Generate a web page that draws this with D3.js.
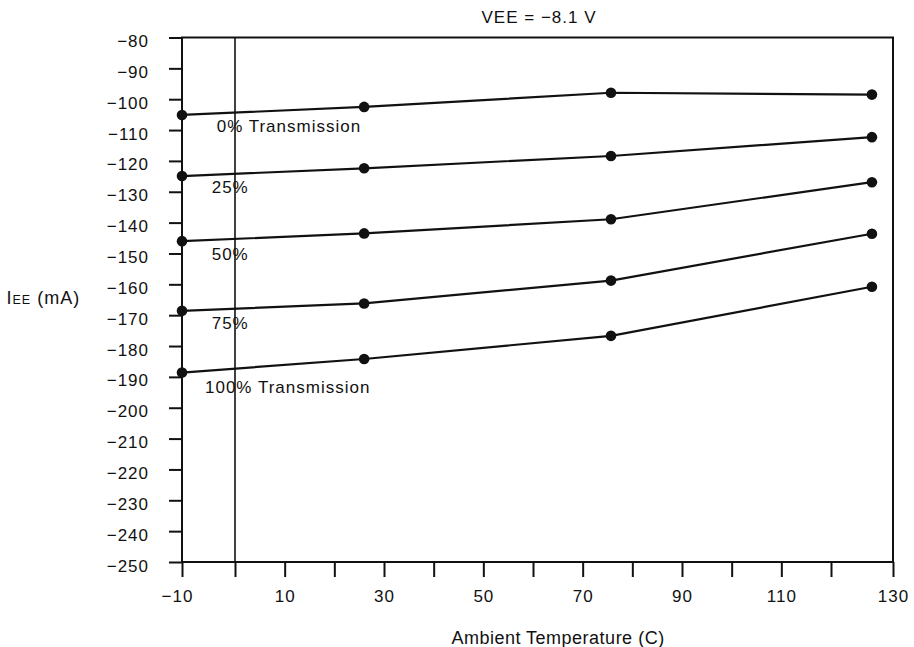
<!DOCTYPE html>
<html>
<head>
<meta charset="utf-8">
<script src="https://cdn.jsdelivr.net/npm/d3@7"></script>
<style>
  html, body { margin: 0; padding: 0; background: #fff; }
  svg text { font-family: "Liberation Sans", Arial, Helvetica, sans-serif; fill: #111; }
</style>
</head>
<body>
<svg id="chart" width="914" height="647"></svg>
<script>
// Ambient temperature (C) at which supply current was measured
const temperatures = [-10, 26, 75.7, 126.6];

// Supply current IEE (mA) per transmission level
const current0   = [-105.1, -102.5, -97.9, -98.5];
const current25  = [-124.9, -122.4, -118.4, -112.3];
const current50  = [-146.0, -143.5, -138.9, -126.9];
const current75  = [-168.6, -166.2, -158.8, -143.6];
const current100 = [-188.6, -184.2, -176.7, -160.8];

const seriesLabels = ["0% Transmission", "25%", "50%", "75%", "100% Transmission"];

// Axis ticks
const xTickValues = [-10, 0, 10, 20, 30, 40, 50, 60, 70, 80, 90, 100, 110, 120, 130];
const xTickLabels = [-10, 10, 30, 50, 70, 90, 110, 130];
const yTickValues = [-80, -90, -100, -110, -120, -130, -140, -150, -160, -170,
                     -180, -190, -200, -210, -220, -230, -240, -250];

const titleText = "VEE = \u22128.1 V";
const xTitle = "Ambient Temperature (C)";

// ---- layout ----
const svg = d3.select("#chart");
const plotLeft = 182, plotRight = 893, plotTop = 37.5, plotBottom = 562;

// the printed temperature axis is slightly uneven; follow its tick placement
const x = d3.scaleLinear().domain([-10, 0, 120, 130]).range([plotLeft, 235, 831, plotRight]);
const y = d3.scaleLinear().domain([-80, -250]).range([plotTop, plotBottom]);

const fmt = d3.format("");
const series = [current0, current25, current50, current75, current100];

// y axis
const yAxis = svg.append("g")
  .attr("transform", `translate(${plotLeft},0)`)
  .call(d3.axisLeft(y).tickValues(yTickValues).tickSize(13).tickPadding(20).tickFormat(fmt));
yAxis.select(".domain").remove();
yAxis.selectAll(".tick line").attr("stroke", "#111").attr("stroke-width", 2);
yAxis.selectAll(".tick text")
  .attr("dy", "0.53em")
  .style("font-size", "17px")
  .style("letter-spacing", "1px");

// x axis
const labelled = new Set(xTickLabels);
const xAxis = svg.append("g")
  .attr("transform", `translate(0,${plotBottom})`)
  .call(d3.axisBottom(x).tickValues(xTickValues).tickSize(15).tickPadding(12.6)
    .tickFormat(d => labelled.has(d) ? fmt(d) : ""));
xAxis.select(".domain").remove();
xAxis.selectAll(".tick line").attr("stroke", "#111").attr("stroke-width", 2);
xAxis.selectAll(".tick text")
  .attr("dx", d => d < 0 ? -5 : 0)
  .style("font-size", "17px")
  .style("letter-spacing", "1px");

// plot frame
svg.append("rect")
  .attr("x", plotLeft).attr("y", plotTop)
  .attr("width", plotRight - plotLeft).attr("height", plotBottom - plotTop)
  .attr("fill", "none").attr("stroke", "#111").attr("stroke-width", 2);

// reference line at 0 C
svg.append("line")
  .attr("x1", x(0)).attr("x2", x(0))
  .attr("y1", plotTop).attr("y2", plotBottom)
  .attr("stroke", "#111").attr("stroke-width", 1.6);

// curves
const line = d3.line().x((d, i) => x(temperatures[i])).y(d => y(d));
const curves = svg.append("g");
series.forEach(vals => {
  curves.append("path")
    .attr("d", line(vals))
    .attr("fill", "none")
    .attr("stroke", "#111")
    .attr("stroke-width", 2.2);
  curves.selectAll(null)
    .data(vals)
    .enter().append("circle")
    .attr("cx", (d, i) => x(temperatures[i]))
    .attr("cy", d => y(d))
    .attr("r", 5.3)
    .attr("fill", "#111");
});

// curve labels, placed just under the first point of each curve
const labelDx = [34.7, 29.7, 29.7, 29.7, 23];
const labelDy = [17.5, 16.7, 19, 18.3, 20.6];
series.forEach((vals, k) => {
  svg.append("text")
    .attr("x", x(temperatures[0]) + labelDx[k])
    .attr("y", y(vals[0]) + labelDy[k])
    .style("font-size", "17px")
    .style("letter-spacing", "1px")
    .text(seriesLabels[k]);
});

// title
svg.append("text")
  .attr("x", 539).attr("y", 23.3)
  .attr("text-anchor", "middle")
  .style("font-size", "17px")
  .style("letter-spacing", "1px")
  .text(titleText);

// y axis title: IEE (mA)
const yt = svg.append("text")
  .attr("x", 6.5).attr("y", 304)
  .style("letter-spacing", "1px");
yt.append("tspan").style("font-size", "18px").text("I");
yt.append("tspan").style("font-size", "12.5px").text("EE");
yt.append("tspan").style("font-size", "18px").text(" (mA)");

// x axis title
svg.append("text")
  .attr("x", 558).attr("y", 644)
  .attr("text-anchor", "middle")
  .style("font-size", "18px")
  .style("letter-spacing", "0.5px")
  .text(xTitle);
</script>
</body>
</html>
